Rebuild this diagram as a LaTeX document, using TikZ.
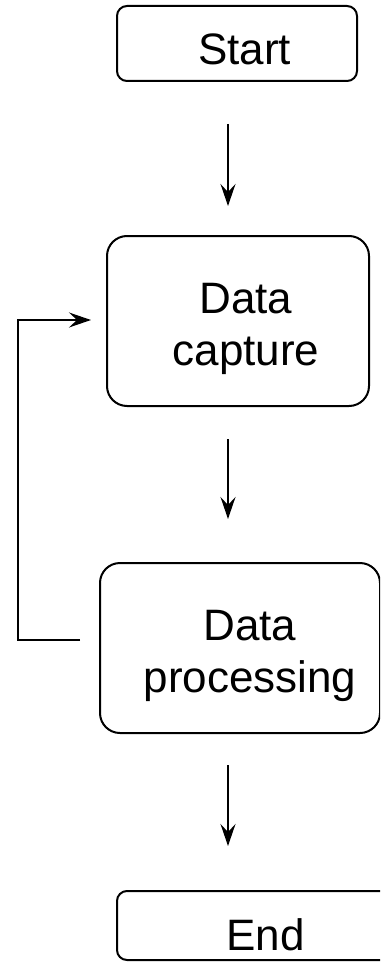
\documentclass[tikz,border=0pt]{standalone}
\usepackage{fontspec}
\setmainfont{Liberation Sans}
\usetikzlibrary{arrows.meta,calc}

\begin{document}
\begin{tikzpicture}[x=1pt, y=-1pt, line width=2pt,
    >={Stealth[length=22pt,width=15pt,inset=8pt]},
    blk/.style={draw,rounded corners=#1,inner sep=0pt},
    blk/.default=10pt,
    txt/.style={align=center,inner sep=0pt,font=\fontsize{44}{52}\selectfont}]
    \clip (0,0) rectangle (380,963);
    \node[blk,minimum width=240,minimum height=75]      (start)   at (237,43.5)  {};
    \node[blk=20pt,minimum width=262,minimum height=170] (capture) at (238,321)   {};
    \node[blk=20pt,minimum width=280,minimum height=170] (proc)    at (240,648)   {};
    \node[blk,minimum width=297,minimum height=69]      (end)     at (265.5,925.5) {};
    \node[txt] (start-t)   at ($(start)+(7.5,6)$)   {Start};
    \node[txt] (capture-t) at ($(capture)+(8,8)$)   {Data\\capture};
    \node[txt] (proc-t)    at ($(proc)+(10,8)$)     {Data\\processing};
    \node[txt] (end-t)     at ($(end)+(0,9)$)       {End};
    \coordinate (axis) at (228,0);
    \foreach \a/\b/\s/\e in {start/capture/42/29,capture/proc/32/43,proc/end/31/44}
      \draw[->,shorten <=\s pt,shorten >=\e pt] (\a.south -| axis)--(\b.north -| axis);
    % loop back
    \draw[->,shorten <=19pt,shorten >=15pt] ($(proc.west)+(0,-8)$) -- ++(-81,0) |- ($(capture.west)+(0,-1)$);
\end{tikzpicture}
\end{document}
